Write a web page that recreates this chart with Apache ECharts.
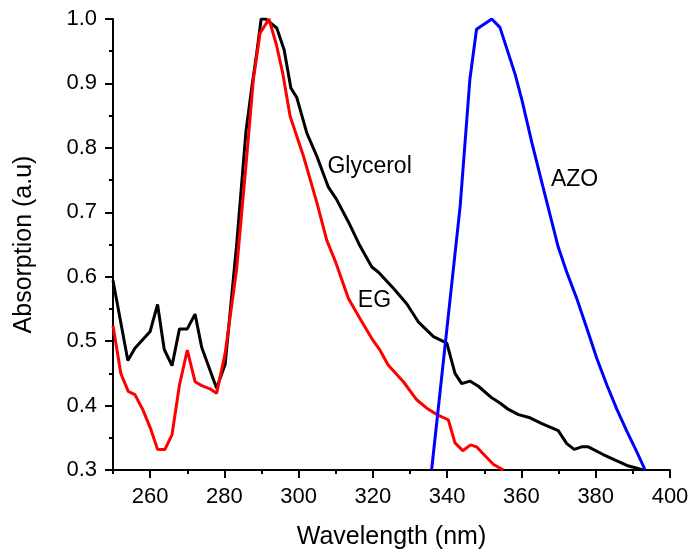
<!DOCTYPE html>
<html>
<head>
<meta charset="utf-8">
<script src="https://cdn.jsdelivr.net/npm/echarts@6/dist/echarts.min.js"></script>
<style>html,body{margin:0;padding:0;background:#fff}#c{width:692px;height:555px}</style>
</head>
<body>
<div id="c"></div>
<script>
const glycerol = [[250,0.594],[254.0,0.470],[255.9,0.489],[260.0,0.515],[262.0,0.557],[263.8,0.487],[265.9,0.462],[267.9,0.519],[270.0,0.519],[272.1,0.542],[273.9,0.490],[277.9,0.427],[280.2,0.464],[283.3,0.650],[285.8,0.825],[287.4,0.895],[288.7,0.947],[289.9,1.0],[291.1,1.0],[294.1,0.986],[296.1,0.952],[297.9,0.893],[299.5,0.878],[302.2,0.823],[304.9,0.787],[308.0,0.739],[310.2,0.720],[313.4,0.685],[316.5,0.648],[319.7,0.615],[321.5,0.607],[325.5,0.582],[329.1,0.558],[332.2,0.530],[336.3,0.507],[339.9,0.497],[342.1,0.450],[343.9,0.434],[346.1,0.438],[348.4,0.430],[352.0,0.412],[354.2,0.404],[356.5,0.394],[359.2,0.386],[362.3,0.381],[365.5,0.372],[369.9,0.361],[372.2,0.341],[374.2,0.332],[376.2,0.336],[378.0,0.336],[382.0,0.324],[385.7,0.314],[388.4,0.307],[392.8,0.300]];
const eg = [[250,0.524],[252.1,0.450],[254.1,0.422],[255.9,0.417],[258.0,0.394],[260.2,0.363],[262.0,0.332],[264.0,0.332],[265.9,0.355],[267.9,0.432],[270.0,0.486],[272.1,0.437],[273.9,0.431],[276.1,0.426],[277.9,0.419],[280.2,0.481],[283.3,0.612],[285.8,0.772],[287.8,0.906],[289.6,0.978],[292.0,1.0],[294.0,0.960],[295.7,0.916],[297.7,0.849],[301.3,0.787],[304.9,0.715],[307.6,0.656],[309.8,0.625],[313.4,0.566],[316.5,0.535],[319.7,0.504],[321.9,0.486],[324.1,0.463],[328.2,0.437],[331.8,0.409],[334.5,0.396],[337.2,0.386],[340.3,0.378],[342.1,0.342],[344.2,0.330],[346.3,0.339],[347.9,0.336],[350.2,0.322],[352.4,0.309],[355.1,0.300]];
const azo = [[335.8,0.300],[343.5,0.710],[346.1,0.906],[347.9,0.984],[352.0,1.0],[354.2,0.987],[358.3,0.914],[360.1,0.875],[362.8,0.808],[365.5,0.746],[369.9,0.646],[372.2,0.607],[374.9,0.566],[377.6,0.520],[380.3,0.473],[383.0,0.432],[385.7,0.394],[388.4,0.360],[391.0,0.329],[393.3,0.300]];
const xMajorTicks = [260,280,300,320,340,360,380,400];
const xMinorTicks = [250,270,290,310,330,350,370,390];
const seriesNames = ['Glycerol','EG','AZO'];
const labelPos = [[319.1,0.771],[320.4,0.563],[374.3,0.751]];

const FONT = 'Liberation Sans, Arial, sans-serif';
const chart = echarts.init(document.getElementById('c'), null, {renderer:'canvas'});
function mk(name, data, color, pos){
  return {
    type:'line', name:name, data:data, showSymbol:false, symbol:'none',
    lineStyle:{color:color,width:3}, itemStyle:{color:color}, animation:false, z:3,
    markPoint:{symbol:'circle', symbolSize:0, animation:false,
      label:{show:true, position:'inside', formatter:name, color:'#000', fontSize:23, fontFamily:FONT},
      data:[{coord:pos, value:name}]}
  };
}
chart.setOption({
  animation:false,
  backgroundColor:'#fff',
  grid:{left:113, right:22, top:19, bottom:83, containLabel:false},
  xAxis:[{
    type:'value', min:250, max:400, position:'bottom',
    name:'Wavelength (nm)', nameLocation:'middle', nameGap:55,
    nameTextStyle:{fontSize:25, fontFamily:FONT, color:'#000'},
    axisLine:{show:true, lineStyle:{color:'#000', width:2}},
    axisTick:{show:true, length:8, lineStyle:{color:'#000', width:2}, customValues:xMajorTicks},
    axisLabel:{show:true, fontSize:22, fontFamily:FONT, color:'#000', margin:16, customValues:xMajorTicks},
    splitLine:{show:false}
  },{
    type:'value', min:250, max:400, position:'bottom',
    axisLine:{show:false},
    axisTick:{show:true, length:4, lineStyle:{color:'#000', width:2}, customValues:xMinorTicks},
    axisLabel:{show:false},
    splitLine:{show:false}
  }],
  yAxis:{
    type:'value', min:0.3, max:1.0, interval:0.1,
    name:'Absorption (a.u)', nameLocation:'middle', nameGap:76,
    nameTextStyle:{fontSize:25, fontFamily:FONT, color:'#000'},
    axisLine:{show:true, lineStyle:{color:'#000', width:2}},
    axisTick:{show:true, length:8, lineStyle:{color:'#000', width:2}},
    minorTick:{show:true, splitNumber:2, length:4, lineStyle:{color:'#000', width:2}},
    axisLabel:{fontSize:22, fontFamily:FONT, color:'#000', margin:16, formatter:v=>v.toFixed(1)},
    splitLine:{show:false}
  },
  series:[mk(seriesNames[0], glycerol, '#000000', labelPos[0]), mk(seriesNames[1], eg, '#ff0000', labelPos[1]), mk(seriesNames[2], azo, '#0000ff', labelPos[2])]
});
</script>
</body>
</html>
